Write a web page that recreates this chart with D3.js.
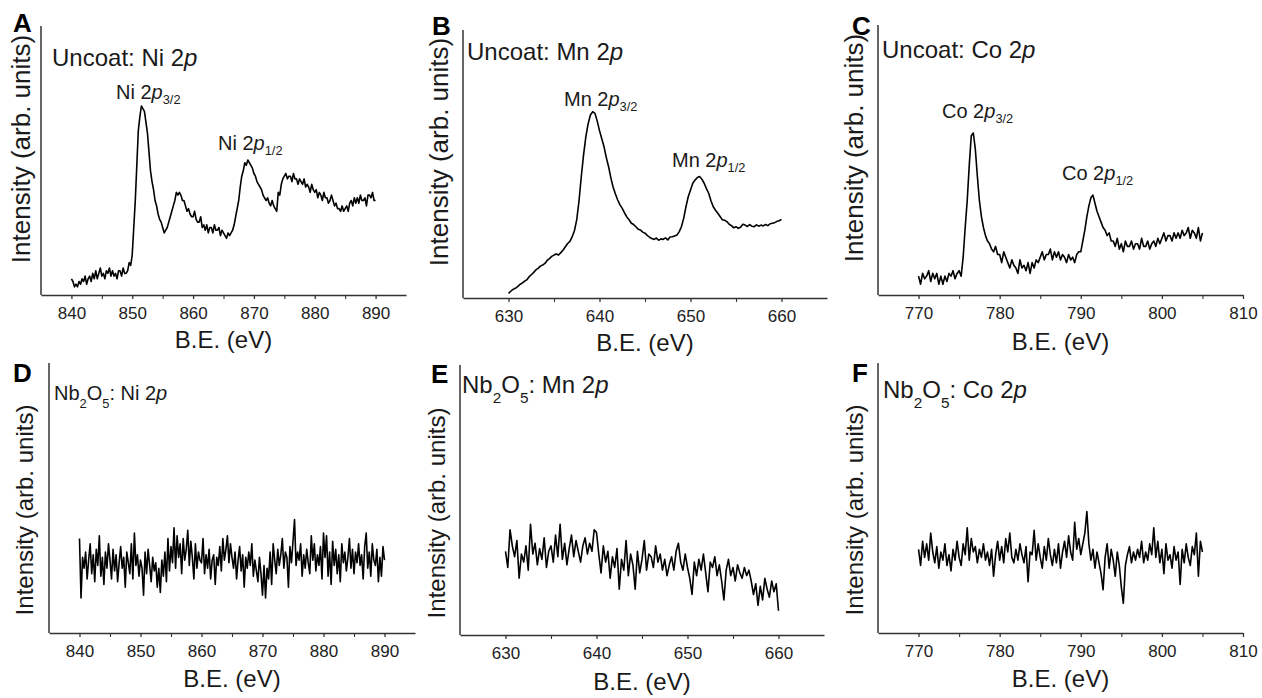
<!DOCTYPE html>
<html>
<head>
<meta charset="utf-8">
<script src="https://cdn.jsdelivr.net/npm/d3@7"></script>
<style>
  body { margin: 0; background: #fff; }
  svg { display: block; font-family: Arial, "Liberation Sans", sans-serif; }
</style>
</head>
<body>
<svg id="chart" width="1262" height="698"></svg>
<script>
// scans are uniformly stepped, 0.25 eV
const scanStep = 0.25;
const niStart = 840, mnStart = 630, coStart = 770;

// uncoated sample, one row per eV
const uncoatNi = [
  6, 5, 3, 4,   3, 5, 4, 6,   5, 7, 4, 6,   7, 5, 8, 6,   9, 6, 8, 10,
  7, 8, 6, 9,   8, 10, 7, 9,  7, 8, 6, 9,   9, 7, 10, 8,  8, 9, 12, 11,
  15, 25, 35, 48,  61, 66, 70, 69,  68, 64, 60, 53,  46, 42, 39, 35,  33, 30, 28, 27,
  25, 23, 24, 25,  27, 29, 31, 33,  35, 38, 37, 38,  37, 35, 35, 33,  31, 32, 30, 29,
  29, 31, 28, 27,  27, 29, 25, 26,  24, 26, 23, 25,  25, 23, 26, 24,  24, 25, 22, 24,
  23, 22, 21, 23,  22, 23, 24, 26,  29, 32, 35, 40,  44, 46, 49, 48,  50, 49, 48, 47,
  45, 44, 42, 41,  40, 39, 37, 36,  35, 36, 34, 33,  35, 33, 32, 31,  38, 37, 41, 43,
  44, 45, 43, 44,  44, 42, 45, 43,  43, 41, 43, 42,  41, 43, 40, 41,  40, 38, 41, 39,
  38, 39, 36, 38,  37, 35, 38, 36,  36, 34, 35, 37,  35, 33, 34, 32,  32, 31, 33, 31,
  32, 33, 31, 34,  35, 33, 36, 34,  36, 34, 37, 35,  35, 36, 33, 37,  37, 36, 38, 35,
  35
];
const uncoatMn = [
  1.7, 2.5, 3.2, 3.6,   4.2, 5.0, 5.5, 6.2,   6.7, 7.8, 8.6, 9.4,   10.4, 11.0, 11.8, 12.2,
  12.8, 13.9, 14.6, 15.4,   15.9, 16.3, 15.9, 16.8,   17.8, 19.0, 20.2, 21.0,   22.7, 25.0, 29, 36,
  45, 53, 59.8, 64.5,   67.8, 69, 68.4, 65.5,   62, 59, 56, 52,   48.6, 44.5, 41, 38.5,
  36.3, 34.5, 33.2, 31.5,   30, 29, 27.7, 27.2,   26.4, 25.5, 25.2, 24.4,   24, 23.2, 22.5, 22.0,
  21.7, 22.2, 21.4, 21.9,   21.7, 22.3, 21.5, 22.6,   22.7, 23.0, 23.3, 24.5,   26.4, 29.5, 33.8, 37.5,
  40, 42.5, 43.7, 44.6,   45, 44, 42.5, 40.5,   38.8, 36.0, 33.8, 32.5,   31.4, 30.2, 29.0, 28.8,
  28.3, 27.3, 26.8, 26.0,   26.4, 25.8, 26.2, 27.3,   27, 26.5, 27.2, 26.6,   26.4, 27.1, 26.6, 27.0,
  26.7, 27.2, 26.8, 27.5,   27.7, 27.9, 28.4, 28.6,
  29.1
];
const uncoatCo = [
  7, 4, 8, 6,   7, 9, 5, 8,   6, 8, 4, 7,   4, 7, 5, 8,   7, 9, 6, 8,
  9, 7, 14, 25,   35, 48, 59, 60,   54, 44, 35, 29,   25, 22, 20, 19,   17, 16, 18, 15,
  15, 12, 16, 14,   12, 10, 13, 11,   10, 8, 13, 10,   11, 9, 12, 8,   12, 10, 13, 12,
  14, 16, 13, 15,   15, 17, 13, 16,   14, 16, 13, 15,   14, 12, 15, 13,   14, 12, 15, 16,
  16, 20, 24, 29,   33, 36, 37, 34,   31, 29, 27, 25,   24, 22, 23, 20,   20, 18, 21, 17,
  19, 16, 20, 18,   18, 20, 17, 19,   19, 17, 21, 18,   18, 20, 17, 19,   20, 18, 21, 19,
  21, 23, 20, 22,   22, 20, 23, 21,   23, 21, 24, 22,   23, 25, 21, 24,   23, 21, 25, 20,
  23
];

// Nb2O5 coated sample, one row per eV
const coatedNi = [
  35, 13, 28, 24,   30, 20, 27, 33,   22, 29, 19, 31,   25, 36, 21, 28,   18, 30, 24, 33,
  27, 20, 31, 23,   29, 19, 26, 32,   24, 28, 17, 30,   26, 22, 33, 20,   37, 25, 29, 21,
  27, 24, 14, 30,   22, 31, 25, 19,   28, 23, 26, 17,   24, 15, 27, 21,   30, 19, 35, 23,
  32, 26, 39, 24,   36, 28, 33, 22,   35, 27, 31, 38,   25, 34, 28, 20,   33, 24, 30, 27,
  26, 35, 22, 29,   24, 31, 20, 27,   29, 18, 28, 25,   32, 23, 35, 27,   31, 36, 26, 33,
  28, 24, 30, 20,   27, 32, 23, 29,   17, 28, 24, 30,   25, 33, 21, 27,   23, 19, 28, 22,
  14, 25, 13, 24,   20, 30, 18, 33,   27, 22, 31, 25,   29, 35, 24, 30,   28, 17, 32, 26,
  34, 42, 25, 30,   27, 33, 21, 29,   24, 31, 26, 22,   36, 27, 33, 23,   29, 25, 32, 20,
  37, 28, 36, 21,   30, 18, 34, 25,   31, 22, 29, 19,   33, 26, 30, 23,   28, 35, 24, 31,
  22, 30, 26, 33,   25, 29, 20, 32,   37, 24, 30, 21,   33, 27, 25, 31,   19, 28, 21, 32,
  27
];
const coatedMn = [
  31, 25, 39, 33,   29, 35, 21, 30,   27, 33, 24, 41,   30, 34, 26, 32,   28, 36, 25, 31,
  33, 27, 37, 29,   41, 28, 34, 26,   32, 37, 29, 35,   31, 27, 33, 36,   30, 34, 31, 39,
  38, 30, 23, 33,   27, 31, 21, 29,   25, 32, 17, 28,   24, 35, 22, 30,   26, 17, 31, 23,
  28, 35, 24, 30,   29, 25, 33, 27,   30, 24, 28, 22,   26, 29, 24, 31,   34, 27, 24, 30,
  25, 21, 15, 27,   22, 28, 24, 30,   23, 16, 27, 25,   29, 22, 26, 20,   13, 24, 28, 22,
  25, 20, 26, 23,   21, 25, 22, 24,   20, 15, 19, 11,   18, 13, 21, 17,   14, 20, 16, 19,
  9
];
const coatedCo = [
  31, 25, 34, 28,   33, 27, 37, 30,   26, 32, 24, 30,   27, 33, 25, 29,   23, 31, 27, 34,
  28, 25, 33, 29,   39, 27, 35, 30,   32, 26, 31, 28,   33, 27, 30, 25,   31, 21, 29, 34,
  27, 32, 26, 35,   30, 37, 28, 26,   31, 27, 33, 29,   26, 32, 19, 30,   29, 38, 27, 33,
  28, 24, 32, 27,   35, 29, 25, 31,   26, 33, 24, 30,   34, 28, 36, 30,   27, 41, 31, 35,
  29, 33, 37, 45,   33, 27, 31, 24,   30, 26, 22, 16,   28, 33, 24, 31,   27, 21, 30, 25,
  17, 11, 25, 29,   32, 26, 30, 27,   31, 28, 34, 26,   30, 27, 33, 29,   39, 28, 34, 26,
  31, 22, 33, 27,   29, 24, 32, 27,   30, 18, 31, 26,   33, 28, 25, 32,   29, 37, 21, 34,
  30
];

// axis ticks
const niTicks = [840, 850, 860, 870, 880, 890];
const niMinor = [845, 855, 865, 875, 885];
const mnTicks = [630, 640, 650, 660];
const mnMinor = [635, 645, 655];
const coTicks = [770, 780, 790, 800, 810];
const coMinor = [775, 785, 795, 805];

// peak labels
const niPeaks = ['3/2', '1/2'];
const mnPeaks = ['3/2', '1/2'];
const coPeaks = ['3/2', '1/2'];

const ink = '#1a1a1a';
const svg = d3.select('#chart');

// subscripts and italics in one text element
function richText(g, x, y, parts, size) {
  const t = g.append('text')
    .attr('x', x).attr('y', y)
    .attr('font-size', size)
    .attr('fill', ink);
  let shifted = 0;
  parts.forEach(p => {
    const s = t.append('tspan').text(p.t);
    const want = p.sub ? Math.round(size * p.sub) : 0;
    if (want !== shifted) {
      s.attr('dy', want - shifted);
      shifted = want;
    }
    if (p.sub) s.attr('font-size', size * 0.64);
    if (p.it) s.attr('font-style', 'italic');
  });
  return t;
}

const panels = [
  { letter: 'A', el: 'Ni', coat: false, values: uncoatNi, start: niStart,
    domain: [835, 895], ticks: niTicks, minor: niMinor,
    left: 41, right: 406, top: 26, bottom: 295,
    letterPos: [13, 32], title: [52, 66, 24], ylab: [30, 149, 26], xlab: [348, 24],
    peaks: niPeaks, peakPos: [[116, 99], [218, 150]] },
  { letter: 'B', el: 'Mn', coat: false, values: uncoatMn, start: mnStart,
    domain: [625, 665], ticks: mnTicks, minor: mnMinor,
    left: 463, right: 827, top: 30, bottom: 298,
    letterPos: [432, 35], title: [467, 60, 24], ylab: [448, 152, 26], xlab: [351, 24],
    peaks: mnPeaks, peakPos: [[564, 106], [672, 167]] },
  { letter: 'C', el: 'Co', coat: false, values: uncoatCo, start: coStart,
    domain: [765, 810], ticks: coTicks, minor: coMinor,
    left: 878, right: 1243, top: 25, bottom: 295,
    letterPos: [852, 35], title: [882, 58, 24], ylab: [863, 148, 26], xlab: [350, 24],
    peaks: coPeaks, peakPos: [[942, 118], [1062, 180]] },
  { letter: 'D', el: 'Ni', coat: true, values: coatedNi, start: niStart,
    domain: [835, 895], ticks: niTicks, minor: niMinor,
    left: 49, right: 415, top: 363, bottom: 633,
    letterPos: [13, 382], title: [54, 400, 20], ylab: [33, 510, 24], xlab: [687, 24] },
  { letter: 'E', el: 'Mn', coat: true, values: coatedMn, start: mnStart,
    domain: [625, 665], ticks: mnTicks, minor: mnMinor,
    left: 460, right: 824, top: 365, bottom: 635,
    letterPos: [431, 383], title: [462, 393, 24], ylab: [445, 513, 24], xlab: [690, 24] },
  { letter: 'F', el: 'Co', coat: true, values: coatedCo, start: coStart,
    domain: [765, 810], ticks: coTicks, minor: coMinor,
    left: 878, right: 1243, top: 363, bottom: 633,
    letterPos: [852, 382], title: [883, 398, 24], ylab: [863, 510, 24], xlab: [687, 24] }
];

panels.forEach(p => {
  const g = svg.append('g');
  const x = d3.scaleLinear().domain(p.domain).range([p.left, p.right]);
  const y = d3.scaleLinear().domain([0, 100]).range([p.bottom, p.bottom - 270]);

  // spectrum
  const pts = p.values.map((v, i) => [p.start + i * scanStep, v]);
  g.append('path')
    .datum(pts)
    .attr('fill', 'none')
    .attr('stroke', '#000')
    .attr('stroke-width', 1.6)
    .attr('stroke-linejoin', 'round')
    .attr('d', d3.line().x(d => x(d[0])).y(d => y(d[1])));

  // x axis: labelled every 10 eV, bare ticks between
  const ax = g.append('g')
    .attr('transform', `translate(0,${p.bottom})`)
    .call(d3.axisBottom(x).tickValues(p.ticks).tickSize(4).tickSizeOuter(0).tickPadding(8));
  ax.select('.domain').attr('stroke', '#333').attr('stroke-width', 1.5);
  ax.selectAll('.tick line').attr('stroke', '#333').attr('stroke-width', 1.3);
  ax.selectAll('.tick text')
    .attr('font-size', 17)
    .attr('font-family', 'Arial, "Liberation Sans", sans-serif')
    .attr('fill', '#222');

  const mx = g.append('g')
    .attr('transform', `translate(0,${p.bottom})`)
    .call(d3.axisBottom(x).tickValues(p.minor).tickSize(4).tickSizeOuter(0).tickFormat(''));
  mx.select('.domain').remove();
  mx.selectAll('.tick line').attr('stroke', '#333').attr('stroke-width', 1.1);

  // y axis line only, no ticks
  g.append('line')
    .attr('x1', p.left).attr('x2', p.left)
    .attr('y1', p.bottom).attr('y2', p.top)
    .attr('stroke', '#333').attr('stroke-width', 1.5);

  // texts
  g.append('text')
    .attr('x', p.letterPos[0]).attr('y', p.letterPos[1])
    .attr('font-size', 26).attr('font-weight', 'bold')
    .attr('fill', '#000')
    .text(p.letter);

  g.append('text')
    .attr('transform', `translate(${p.ylab[0]},${p.ylab[1]}) rotate(-90)`)
    .attr('text-anchor', 'middle')
    .attr('font-size', p.ylab[2])
    .attr('fill', ink)
    .text('Intensity (arb. units)');

  g.append('text')
    .attr('x', (p.left + p.right) / 2).attr('y', p.xlab[0])
    .attr('text-anchor', 'middle')
    .attr('font-size', p.xlab[1])
    .attr('fill', ink)
    .text('B.E. (eV)');

  const titleParts = p.coat
    ? [{ t: 'Nb' }, { t: '2', sub: 0.4 }, { t: 'O' }, { t: '5', sub: 0.4 }, { t: ': ' + p.el + ' 2' }, { t: 'p', it: true }]
    : [{ t: 'Uncoat: ' + p.el + ' 2' }, { t: 'p', it: true }];
  richText(g, p.title[0], p.title[1], titleParts, p.title[2]);

  if (p.peaks) {
    p.peaks.forEach((sub, i) => {
      richText(g, p.peakPos[i][0], p.peakPos[i][1],
        [{ t: p.el + ' 2' }, { t: 'p', it: true }, { t: sub, sub: 0.25 }], 20);
    });
  }
});
</script>
</body>
</html>
